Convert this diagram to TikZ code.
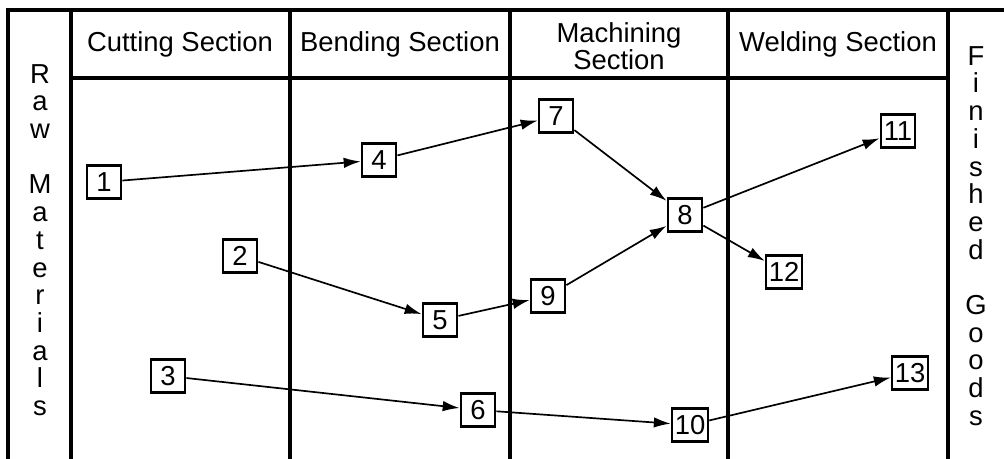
\documentclass[tikz,border=0pt]{standalone}
\usepackage{fontspec}
\setmainfont{Liberation Sans}
\usetikzlibrary{arrows.meta}

\begin{document}
\begin{tikzpicture}[x=0.025cm,y=-0.025cm,
	frame/.style={line width=2.2pt},
	station/.style={draw,line width=1.7pt,inner sep=2pt,minimum width=24.5pt,minimum height=23.5pt,font=\fontsize{19.5}{20}\selectfont},
	flow/.style={line width=1.2pt,-{Latex[length=12pt,width=7.5pt]}},
	head/.style={font=\fontsize{19.5}{20}\selectfont,align=center},
	side/.style={font=\fontsize{19.5}{19.7pt}\selectfont,align=center}]
\useasboundingbox (0,0) rectangle (1004,459);

% frame and sections
\draw[frame] (8,459)--(8,10)--(1004,10);
\foreach \x in {71,290,510,728,948}
{
	\draw[frame] (\x,10)--(\x,459);
}
\draw[frame] (71,78)--(948,78);

\node[head] (cut) at (180,44){Cutting Section};
\node[head] (bend) at (400,44){Bending Section};
\node[head] (mach) at (619,46){Machining\\[-1pt]Section};
\node[head] (weld) at (838,44){Welding Section};

\node[side] (raw) at (40,240){R\\a\\w\\\mbox{}\\M\\a\\t\\e\\r\\i\\a\\l\\s};
\node[side] (fin) at (976,236){F\\i\\n\\i\\s\\h\\e\\d\\\mbox{}\\G\\o\\o\\d\\s};

% work stations
\foreach \n/\x/\y in {1/104/182,2/240/256,3/168/376,4/379/160,5/440/320,6/478/410,7/556/116,8/685/215,9/548/296,10/690/425,11/898/131,12/784/272,13/910/373}
{
	\node[station] (s\n) at (\x,\y){\n};
}

% part routes
\foreach \a/\b in {1/4,4/7,7/8,2/5,5/9,9/8,8/11,8/12,3/6,6/10,10/13}
{
	\draw[flow] (s\a)--(s\b);
}

\end{tikzpicture}
\end{document}
